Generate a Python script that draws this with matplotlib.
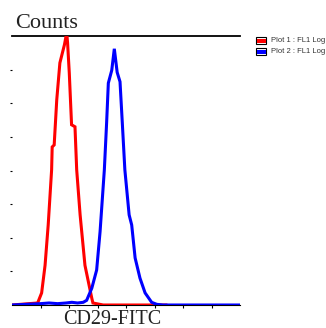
import matplotlib
matplotlib.use("Agg")
import matplotlib.pyplot as plt
from matplotlib.patches import Rectangle

# Channel (log FL1, arbitrary 0-8 axis units) and counts
red_x = [0.0, 0.90, 1.04, 1.16, 1.27, 1.39, 1.41, 1.48, 1.57, 1.68, 1.84, 1.92,
         1.95, 2.01, 2.09, 2.21, 2.27, 2.39, 2.56, 2.80, 2.84, 3.2, 5.4]
red_y = [0, 3, 18, 59, 119, 201, 235, 238, 305, 360, 387, 405,
         390, 345, 268, 265, 201, 134, 59, 10, 3, 0, 0]

blue_x = [0.0, 0.5, 1.0, 1.3, 1.6, 1.9, 2.1, 2.3, 2.50, 2.62, 2.80, 2.97, 3.09,
          3.24, 3.32, 3.38, 3.50, 3.59, 3.69, 3.79, 3.87, 3.96, 4.11, 4.20,
          4.32, 4.49, 4.67, 4.90, 5.08, 5.3, 8.0]
blue_y = [0, 1, 2, 3, 2, 3, 4, 3, 4, 7, 25, 52, 109,
          201, 271, 330, 349, 381, 346, 332, 271, 201, 134, 119,
          70, 40, 18, 4, 1, 0, 0]

x_ticks = [1, 2, 3, 4, 5, 6, 7]
y_ticks = [50, 100, 150, 200, 250, 300, 350]
legend_labels = ["Plot 1 : FL1 Log", "Plot 2 : FL1 Log"]
series_colors = ["#ff0000", "#0000ff"]

W, H = 326, 328
fig = plt.figure(figsize=(W / 100, H / 100), dpi=100)
ax = fig.add_axes([12 / W, 23 / H, 228 / W, 269 / H])

ax.plot(red_x, red_y, color=series_colors[0], lw=2.2, zorder=3,
        solid_joinstyle="miter")
ax.plot(blue_x, blue_y, color=series_colors[1], lw=2.2, zorder=4,
        solid_joinstyle="miter")

ax.set_xlim(0, 8)
ax.set_ylim(0, 400)
ax.set_xticks(x_ticks)
ax.set_yticks(y_ticks)
ax.set_xticklabels([])
ax.set_yticklabels([])
ax.tick_params(axis="x", direction="out", length=2.5, width=0.8, color="black")
ax.tick_params(axis="y", direction="out", length=1.8, width=0.8, color="black")
for s in ["left", "right"]:
    ax.spines[s].set_visible(False)
ax.spines["top"].set_linewidth(1.3)
ax.spines["bottom"].set_linewidth(0.8)

fig.text(15 / W, 1 - 28 / H, "Counts", family="Liberation Serif", fontsize=16,
         va="baseline", ha="left", color="#222222")
fig.text(63 / W, 1 - 324 / H, "CD29-FITC", family="Liberation Serif",
         fontsize=14.5, va="baseline", ha="left", color="#222222")

# legend
for i, (lab, c) in enumerate(zip(legend_labels, series_colors)):
    y0 = 37 + i * 11
    fig.patches.append(Rectangle((256 / W, 1 - (y0 + 7) / H), 10 / W, 7 / H,
                                 transform=fig.transFigure, facecolor="white",
                                 edgecolor="black", lw=0.8))
    fig.patches.append(Rectangle((256.5 / W, 1 - (y0 + 5.5) / H), 9 / W, 4 / H,
                                 transform=fig.transFigure, facecolor=c,
                                 edgecolor="none"))
    fig.text(271 / W, 1 - (y0 + 3.5) / H, lab, family="Liberation Sans",
             fontsize=5.5, va="center", ha="left", color="#333333")

fig.savefig("out.png", dpi=100)
